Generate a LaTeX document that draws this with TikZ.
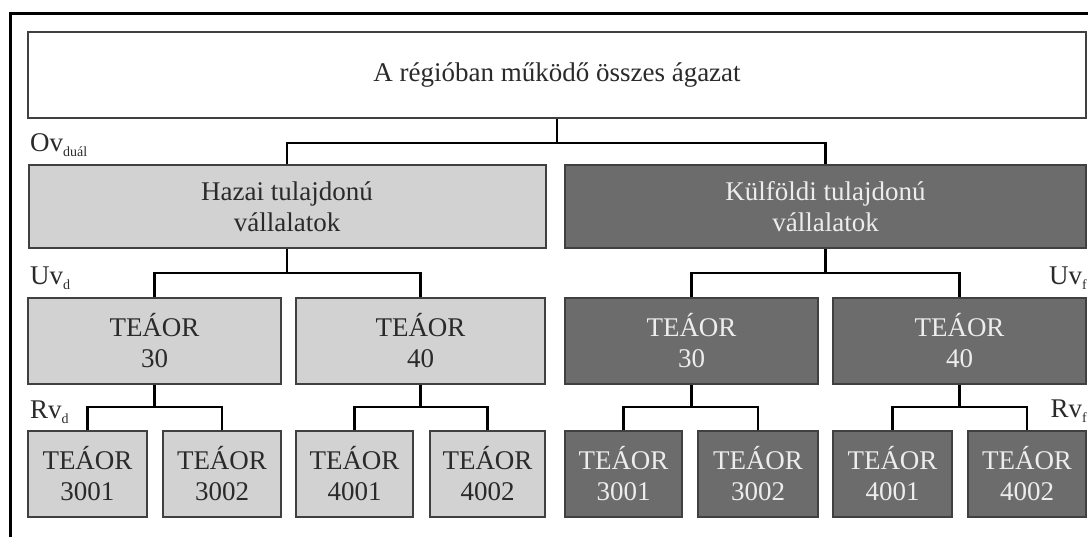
\documentclass[tikz,border=0pt]{standalone}
\usepackage{fontspec}
\setmainfont{Liberation Serif}
\definecolor{lightbox}{HTML}{D2D2D2}
\definecolor{darkbox}{HTML}{6C6C6C}
\definecolor{boxline}{HTML}{404040}
\definecolor{inktext}{HTML}{2A2A2A}
\definecolor{paletext}{HTML}{EDEDED}
\newcommand{\sublabel}[2]{#1\raisebox{-0.45ex}{\fontsize{14}{14}\selectfont #2}}
\begin{document}
\begin{tikzpicture}[x=1pt,y=-1pt,
  box/.style={draw=boxline,line width=2pt,rectangle,inner sep=0pt,align=center,
    font=\fontsize{27}{31}\selectfont,minimum height=86pt},
  topbox/.style={box,fill=white,text=inktext},
  homebox/.style={box,fill=lightbox,text=inktext},
  foreignbox/.style={box,fill=darkbox,text=paletext},
  link/.style={draw=black,line width=2.8pt},
  levellabel/.style={inner sep=0pt,text=inktext,font=\fontsize{27}{27}\selectfont},
  frameline/.style={line width=3pt,draw=black}]
\useasboundingbox (0,0) rectangle (1088,536);
% outer frame
\coordinate (fbl) at (10,540);
\coordinate (ftl) at (10,13);
\coordinate (ftr) at (1090,13);
\draw[frameline] (fbl) -- (ftl) -- (ftr);

% junction rows
\coordinate (r1) at (0,143);
\coordinate (r2) at (0,273);
\coordinate (r3) at (0,407);

% level 1
\node[topbox,minimum width=1058pt] (all) at (557,75) {A régióban működő összes ágazat};

% level 2
\node[homebox,minimum width=517pt,minimum height=83pt] (home) at (287,206.5) {Hazai tulajdonú\\vállalatok};
\node[foreignbox,minimum width=521pt,minimum height=83pt] (foreign) at (825.5,206.5) {Külföldi tulajdonú\\vállalatok};

% level 3
\node[homebox,minimum width=253pt] (h30) at (154.5,341) {TEÁOR\\30};
\node[homebox,minimum width=249pt] (h40) at (420.5,341) {TEÁOR\\40};
\node[foreignbox,minimum width=253pt] (f30) at (691.5,341) {TEÁOR\\30};
\node[foreignbox,minimum width=253pt] (f40) at (959.5,341) {TEÁOR\\40};

% level 4
\node[homebox,minimum width=119pt] (h3001) at (87.5,474) {TEÁOR\\3001};
\node[homebox,minimum width=118pt] (h3002) at (222,474) {TEÁOR\\3002};
\node[homebox,minimum width=117pt] (h4001) at (354.5,474) {TEÁOR\\4001};
\node[homebox,minimum width=115pt] (h4002) at (487.5,474) {TEÁOR\\4002};
\node[foreignbox,minimum width=117pt] (f3001) at (623.5,474) {TEÁOR\\3001};
\node[foreignbox,minimum width=120pt] (f3002) at (758,474) {TEÁOR\\3002};
\node[foreignbox,minimum width=119pt] (f4001) at (892.5,474) {TEÁOR\\4001};
\node[foreignbox,minimum width=118pt] (f4002) at (1027,474) {TEÁOR\\4002};

% connectors
\draw[link] (all.south) -- (all.south |- r1);
\draw[link] (home.north) |- (all.south |- r1) -| (foreign.north);

\draw[link] (home.south) -- (home.south |- r2);
\draw[link] (h30.north) |- (home.south |- r2) -| (h40.north);
\draw[link] (foreign.south) -- (foreign.south |- r2);
\draw[link] (f30.north) |- (foreign.south |- r2) -| (f40.north);

\draw[link] (h30.south) -- (h30.south |- r3);
\draw[link] (h3001.north) |- (h30.south |- r3) -| (h3002.north);
\draw[link] (h40.south) -- (h40.south |- r3);
\draw[link] (h4001.north) |- (h40.south |- r3) -| (h4002.north);
\draw[link] (f30.south) -- (f30.south |- r3);
\draw[link] (f3001.north) |- (f30.south |- r3) -| (f3002.north);
\draw[link] (f40.south) -- (f40.south |- r3);
\draw[link] (f4001.north) |- (f40.south |- r3) -| (f4002.north);

% level labels
\node[levellabel,anchor=base west] (ov) at (30,151) {\sublabel{Ov}{duál}};
\node[levellabel,anchor=base west] (uvd) at (30,284) {\sublabel{Uv}{d}};
\node[levellabel,anchor=base west] (rvd) at (30,418) {\sublabel{Rv}{d}};
\node[levellabel,anchor=base east] (uvf) at (1087,284) {\sublabel{Uv}{f}};
\node[levellabel,anchor=base east] (rvf) at (1087,417) {\sublabel{Rv}{f}};
\end{tikzpicture}
\end{document}
